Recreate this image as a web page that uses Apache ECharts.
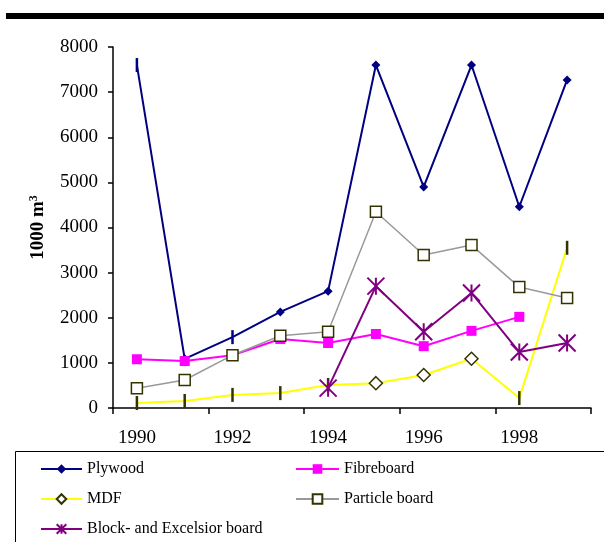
<!DOCTYPE html>
<html>
<head>
<meta charset="utf-8">
<script src="https://cdn.jsdelivr.net/npm/echarts@6/dist/echarts.min.js"></script>
<style>
  html, body { margin: 0; padding: 0; background: #fff; }
  #chart { width: 604px; height: 542px; }
</style>
</head>
<body>
<div id="chart"></div>
<script>
var years = ["1990", "1991", "1992", "1993", "1994", "1995", "1996", "1997", "1998", "1999"];
var plywood = [7600, 1090, 1570, 2130, 2590, 7600, 4900, 7600, 4460, 7270];
var fibreboard = [1080, 1040, 1170, 1530, 1440, 1640, 1370, 1710, 2020, null];
var mdf = [110, 155, 290, 330, 510, 550, 730, 1090, 220, 3550];
var particleBoard = [440, 620, 1170, 1600, 1690, 4350, 3390, 3610, 2680, 2440];
var blockBoard = [null, null, null, null, 440, 2700, 1690, 2550, 1240, 1440];

// points that the original draws with a small vertical dash instead of the series marker
var plywoodDash = [0, 2];
var mdfDash = [0, 1, 2, 3, 4, 8, 9];

var serif = "'Liberation Serif', 'DejaVu Serif', serif";
var asterisk = "path://M0,0L10,10M10,0L0,10M5,0L5,10";

function withDash(values, dashIdx, color) {
  return values.map(function (v, i) {
    if (dashIdx.indexOf(i) < 0) return v;
    return {
      value: v,
      symbol: "rect",
      symbolSize: [2.5, 14],
      itemStyle: { color: color, borderWidth: 0 }
    };
  });
}

function legendAt(name, left, top, w) {
  return {
    data: [name],
    left: left,
    top: top,
    padding: 0,
    itemWidth: w,
    itemHeight: 12,
    itemGap: 4,
    textStyle: { fontSize: 16, fontFamily: serif, color: "#000" }
  };
}

var chart = echarts.init(document.getElementById("chart"));
var option = {
  animation: false,
  textStyle: { fontFamily: serif },
  grid: { left: 113, right: 13, top: 47, bottom: 134 },
  xAxis: {
    type: "category",
    data: years,
    boundaryGap: true,
    axisLine: { lineStyle: { color: "#000", width: 1.5 } },
    axisTick: { show: true, length: 6, lineStyle: { color: "#000", width: 1.5 } },
    axisLabel: { interval: 1, color: "#000", fontSize: 19, fontFamily: serif, margin: 21 },
    splitLine: { show: false }
  },
  yAxis: {
    type: "value",
    min: 0,
    max: 8000,
    interval: 1000,
    name: "{a|1000 m}{b|3}",
    nameLocation: "middle",
    nameRotate: 90,
    nameGap: 64,
    nameTextStyle: {
      rich: {
        a: { fontSize: 19, fontWeight: "bold", fontFamily: serif, color: "#000" },
        b: { fontSize: 12, fontWeight: "bold", fontFamily: serif, color: "#000", verticalAlign: "top", padding: [0, 0, 9, 0] }
      }
    },
    axisLine: { show: true, lineStyle: { color: "#000", width: 1.5 } },
    axisTick: { show: true, length: 5, lineStyle: { color: "#000", width: 1.5 } },
    axisLabel: {
      color: "#000", fontSize: 19, fontFamily: serif, margin: 15,
      formatter: function (v) { return String(v); }
    },
    splitLine: { show: false }
  },
  legend: [
    legendAt("Plywood", 40, 461, 41),
    legendAt("MDF", 40, 491, 41),
    legendAt("Block- and Excelsior board", 40, 521, 41),
    legendAt("Fibreboard", 295, 461, 43),
    legendAt("Particle board", 295, 491, 43)
  ],
  graphic: [
    { type: "rect", shape: { x: 6, y: 13, width: 610, height: 6 }, style: { fill: "#000" } },
    { type: "rect", shape: { x: 15.5, y: 451.5, width: 620, height: 120 }, style: { fill: "none", stroke: "#000", lineWidth: 1 } }
  ],
  series: [
    {
      name: "Plywood",
      type: "line",
      data: withDash(plywood, plywoodDash, "#000080"),
      symbol: "diamond",
      symbolSize: 9,
      itemStyle: { color: "#000080" },
      lineStyle: { color: "#000080", width: 2 }
    },
    {
      name: "Fibreboard",
      type: "line",
      data: fibreboard,
      symbol: "rect",
      symbolSize: 10,
      itemStyle: { color: "#FF00FF" },
      lineStyle: { color: "#FF00FF", width: 2 }
    },
    {
      name: "MDF",
      type: "line",
      data: withDash(mdf, mdfDash, "#333300"),
      symbol: "diamond",
      symbolSize: 13,
      itemStyle: { color: "#fff", borderColor: "#333300", borderWidth: 1.5 },
      lineStyle: { color: "#FFFF00", width: 2 }
    },
    {
      name: "Particle board",
      type: "line",
      data: particleBoard,
      symbol: "rect",
      symbolSize: 11,
      itemStyle: { color: "#fff", borderColor: "#333300", borderWidth: 1.5 },
      lineStyle: { color: "#999999", width: 1.5 }
    },
    {
      name: "Block- and Excelsior board",
      type: "line",
      data: blockBoard,
      symbol: asterisk,
      symbolSize: 17,
      itemStyle: { color: "none", borderColor: "#800080", borderWidth: 2 },
      lineStyle: { color: "#800080", width: 2 }
    }
  ]
};
chart.setOption(option);
</script>
</body>
</html>
